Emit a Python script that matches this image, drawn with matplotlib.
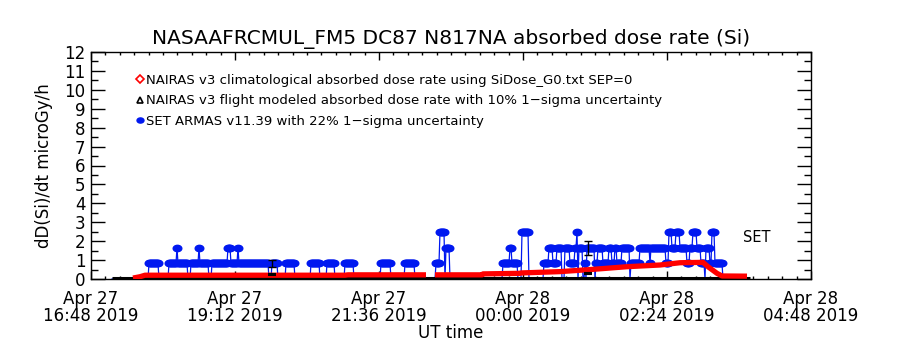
import datetime as dt
import numpy as np
import matplotlib
matplotlib.use("Agg")
import matplotlib.pyplot as plt
from matplotlib.lines import Line2D
from matplotlib.path import Path
from matplotlib.transforms import Affine2D

T0 = dt.datetime(2019, 4, 27, 16, 48)
QUANTUM = 0.83          # ARMAS dose-rate step, microGy/h

# --- SET ARMAS (blue): runs in minutes after 16:48 UT, level in quanta ------
ARMAS_FIRST, ARMAS_LAST = 21, 655
ARMAS_START = [58, 78, 86, 100, 108, 121, 137, 147, 181, 195, 220, 236, 254,
               290, 314, 345, 349, 355, 412, 419, 431,
               453, 458, 466, 474, 479, 484, 486, 488, 494, 496, 505, 507,
               518, 521, 526, 540, 549, 553, 560, 566, 575, 578, 581, 585,
               589, 596, 599, 602, 606, 610, 615, 619, 621, 624]
ARMAS_END = [67, 96, 86, 117, 108, 177, 139, 147, 186, 203, 228, 243, 262,
             299, 323, 348, 353, 358, 426, 420, 437,
             470, 461, 470, 481, 484, 485, 486, 491, 494, 503, 528, 511,
             538, 523, 530, 566, 552, 558, 565, 574, 577, 581, 584, 588,
             595, 601, 604, 605, 609, 613, 618, 620, 623, 631]
ARMAS_LEVEL = [1, 1, 2, 1, 2, 1, 2, 2, 1, 1, 1, 1, 1,
               1, 1, 1, 3, 2, 1, 2, 3,
               1, 2, 2, 2, 1, 2, 3, 2, 1, 2, 1, 2,
               2, 1, 1, 1, 2, 2, 2, 2, 1, 3, 2, 3,
               2, 1, 2, 3, 2, 1, 2, 1, 3, 1]

# error bars drawn on the ARMAS series (22 %)
ERR_MIN = [181, 497]
ERR_LEVEL = [1, 2]
ARMAS_UNC = 0.22

# --- NAIRAS climatological (red) ------------------------------------------
CLIM_MIN = [42, 49, 54, 254, 257, 335, 336, 343, 344, 391, 392, 429, 430,
            469, 502, 536, 569, 589, 612, 617, 626, 631, 656]
CLIM_DOSE = [0.05, 0.12, 0.2, 0.2, 0.22, 0.22, np.nan, np.nan, 0.22, 0.22,
             0.27, 0.3, 0.32, 0.39, 0.51, 0.65, 0.74, 0.86, 0.88, 0.65,
             0.3, 0.16, 0.15]

# --- NAIRAS flight modeled (black) ----------------------------------------
FLT_MIN = [21, 659]
FLT_DOSE = [0.04, 0.04]
FLT_ERR_MIN = [181, 497]
FLT_ERR_DOSE = [0.25, 0.3]
FLT_UNC = 0.10

TICK_LABELS = ["Apr 27\n16:48 2019", "Apr 27\n19:12 2019", "Apr 27\n21:36 2019",
               "Apr 28\n00:00 2019", "Apr 28\n02:24 2019", "Apr 28\n04:48 2019"]

BLUE = "#0018f0"
RED = "#ff0000"


def to_time(minutes):
    return [T0 + dt.timedelta(minutes=float(m)) for m in minutes]


minutes = np.arange(ARMAS_FIRST, ARMAS_LAST + 1)
level = np.zeros(len(minutes))
for s, e, l in zip(ARMAS_START, ARMAS_END, ARMAS_LEVEL):
    level[(minutes >= s) & (minutes <= e)] = l
armas = level * QUANTUM

# flattened filled-circle symbol, like the IDL usersym
blob = Path.unit_circle().transformed(Affine2D().scale(1.35, 1.0))

plt.rcParams["font.family"] = "DejaVu Sans"
fig = plt.figure(figsize=(9, 3.5), dpi=100)
ax = fig.add_axes([91 / 900, 1 - 279 / 350, 720 / 900, 227 / 350])

ax.plot(to_time(minutes), armas, color=BLUE, lw=0.9, marker=blob,
        ms=6.2, mec=BLUE, mfc=BLUE, markevery=list(np.nonzero(level)[0]),
        zorder=2)
err_t = to_time(ERR_MIN)
err_v = np.array(ERR_LEVEL) * QUANTUM
ax.errorbar(err_t, err_v, yerr=err_v * ARMAS_UNC, fmt="none", ecolor="black",
            elinewidth=1, capsize=3, capthick=1, zorder=4)

ax.plot(to_time(FLT_MIN), FLT_DOSE, color="black", lw=2.2, zorder=3,
        solid_capstyle="butt")
ax.plot(to_time(CLIM_MIN), CLIM_DOSE, color=RED, lw=3.8, zorder=3,
        solid_capstyle="butt")
fv = np.array(FLT_ERR_DOSE)
ax.errorbar(to_time(FLT_ERR_MIN), fv, yerr=fv * FLT_UNC, fmt="none",
            ecolor="black", elinewidth=1, capsize=3, capthick=1.5, zorder=4)

major = to_time(np.arange(0, 721, 144))
minor = to_time(np.arange(0, 721, 14.4))
ax.set_xlim(major[0], major[-1])
ax.set_xticks(major)
ax.set_xticklabels(TICK_LABELS, fontsize=12, linespacing=0.95)
ax.set_xticks(minor, minor=True)
ax.set_ylim(0, 12)
ax.set_yticks(range(0, 13))
ax.set_yticks(np.arange(0, 12.01, 0.5), minor=True)
ax.tick_params(axis="both", which="both", direction="in", top=True, right=True,
               width=1, colors="black")
ax.tick_params(axis="y", which="major", length=10, pad=4, labelsize=12)
ax.tick_params(axis="y", which="minor", length=5)
ax.tick_params(axis="x", which="major", length=5.5, pad=8)
ax.tick_params(axis="x", which="minor", length=2.5)
for sp in ax.spines.values():
    sp.set_linewidth(1)

ax.set_title("NASAAFRCMUL_FM5 DC87 N817NA absorbed dose rate (Si)",
             fontsize=14.5, pad=6)
ax.set_xlabel("UT time", fontsize=12, labelpad=-1)
ax.set_ylabel("dD(Si)/dt microGy/h", fontsize=12, labelpad=8)

handles = [
    Line2D([], [], ls="none", marker="D", ms=4, mfc="white", mec=RED, mew=1.2),
    Line2D([], [], ls="none", marker="^", ms=4.5, mfc="white", mec="black", mew=1.2),
    Line2D([], [], ls="none", marker=blob, ms=5, mfc=BLUE, mec=BLUE),
]
labels = [
    "NAIRAS v3 climatological absorbed dose rate using SiDose_G0.txt SEP=0",
    "NAIRAS v3 flight modeled absorbed dose rate with 10% 1\u2212sigma uncertainty",
    "SET ARMAS v11.39 with 22% 1\u2212sigma uncertainty",
]
ax.legend(handles, labels, loc="upper left", bbox_to_anchor=(0.062, 0.905),
          frameon=False, fontsize=9.5, handlelength=0.6, handletextpad=0.2,
          labelspacing=0.58, borderpad=0, borderaxespad=0)

ax.text(0.905, 0.185, "SET", transform=ax.transAxes, fontsize=10.5,
        ha="left", va="center")

fig.savefig("out.png", dpi=100, facecolor="white")
